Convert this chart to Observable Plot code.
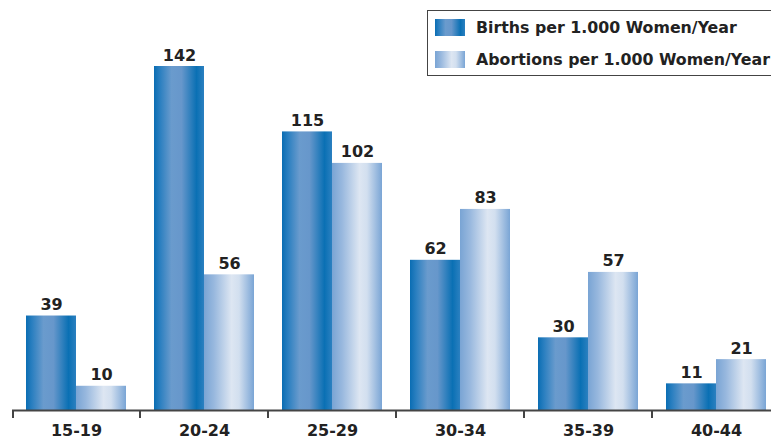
<!DOCTYPE html>
<html>
<head>
<meta charset="utf-8">
<script src="https://cdn.jsdelivr.net/npm/d3@7"></script>
<script src="https://cdn.jsdelivr.net/npm/@observablehq/plot@0.6"></script>
<style>
  html, body { margin: 0; padding: 0; background: #fff; overflow: hidden; }
  #wrap { position: relative; width: 771px; height: 441px; font-family: "DejaVu Sans", Verdana, sans-serif; }
  #legend { position: absolute; left: 427px; top: 10px; width: 370px; height: 64px; border: 1px solid #444; background: #fff; }
  .item { position: absolute; left: 7px; display: flex; align-items: center; font-weight: bold; font-size: 15.8px; color: #222; white-space: nowrap; }
  .sw { width: 30px; height: 17px; margin-right: 11px; }
</style>
</head>
<body>
<div id="wrap"></div>
<script>
const ageGroups = ["15-19", "20-24", "25-29", "30-34", "35-39", "40-44"];
const seriesNames = ["Births per 1.000 Women/Year", "Abortions per 1.000 Women/Year"];
const births = [39, 142, 115, 62, 30, 11];
const abortions = [10, 56, 102, 83, 57, 21];

const data = [];
ageGroups.forEach((g, i) => {
  data.push({age: g, series: seriesNames[0], value: births[i]});
  data.push({age: g, series: seriesNames[1], value: abortions[i]});
});

const fills = ["url(#gBirths)", "url(#gAbort)"];

const plot = Plot.plot({
  width: 771,
  height: 441,
  marginLeft: 9,
  marginRight: -11,
  marginTop: 66,
  marginBottom: 31,
  style: {fontFamily: "DejaVu Sans, Verdana, sans-serif", overflow: "visible"},
  fx: {domain: ageGroups, padding: 0, label: null},
  x: {domain: seriesNames, paddingInner: 0, paddingOuter: 0.28, axis: null},
  y: {domain: [0, 142], axis: null},
  color: {domain: seriesNames, range: fills},
  marks: [
    Plot.barY(data, {fx: "age", x: "series", y: "value", fill: "series"}),
    Plot.text(data, {fx: "age", x: "series", y: "value", text: d => String(d.value), lineAnchor: "bottom", dy: -6, fontSize: 16, fontWeight: "bold", fill: "#222"}),
    Plot.ruleY([0], {stroke: "#444", strokeWidth: 2}),
    Plot.axisFx({anchor: "bottom", tickSize: 0, tickPadding: 14, fontSize: 16, fontWeight: "bold", fill: "#222", label: null})
  ]
});

// gradients
const svg = d3.select(plot);
const defs = svg.insert("defs", ":first-child");
function grad(id, stops) {
  const g = defs.append("linearGradient").attr("id", id).attr("x1", "0%").attr("x2", "100%").attr("y1", "0%").attr("y2", "0%");
  stops.forEach(([o, c]) => g.append("stop").attr("offset", o).attr("stop-color", c));
}
grad("gBirths", [["0%", "#0a6db3"], ["12%", "#2a7fc0"], ["35%", "#6a9bcd"], ["55%", "#6797cb"], ["85%", "#0a70b4"], ["100%", "#2b80c0"]]);
grad("gAbort", [["0%", "#79a4d4"], ["20%", "#98b8de"], ["55%", "#dde6f2"], ["70%", "#d2dfef"], ["100%", "#7aa5d5"]]);

// boundary ticks at the left edge of each age band, from Plot's fx scale
const fx = plot.scale("fx");
const y0 = plot.scale("y").apply(0);
svg.append("g").attr("stroke", "#444").attr("stroke-width", 2)
  .selectAll("line").data(ageGroups).join("line")
  .attr("x1", d => fx.apply(d) + (d === ageGroups[0] ? 1 : 0))
  .attr("x2", d => fx.apply(d) + (d === ageGroups[0] ? 1 : 0))
  .attr("y1", y0).attr("y2", y0 + 8);

const wrap = document.getElementById("wrap");
wrap.appendChild(plot);

const legend = document.createElement("div");
legend.id = "legend";
const swatchBg = ["linear-gradient(to right, #0a6db3 0%, #2a7fc0 12%, #6a9bcd 35%, #6797cb 55%, #0a70b4 85%, #2b80c0 100%)",
                  "linear-gradient(to right, #79a4d4 0%, #98b8de 20%, #dde6f2 55%, #d2dfef 70%, #7aa5d5 100%)"];
seriesNames.forEach((s, i) => {
  const it = document.createElement("div");
  it.className = "item";
  it.style.top = (i === 0 ? 7 : 39) + "px";
  const sw = document.createElement("div");
  sw.className = "sw";
  sw.style.background = swatchBg[i];
  const t = document.createElement("span");
  t.textContent = s;
  it.appendChild(sw); it.appendChild(t);
  legend.appendChild(it);
});
wrap.appendChild(legend);
</script>
</body>
</html>
